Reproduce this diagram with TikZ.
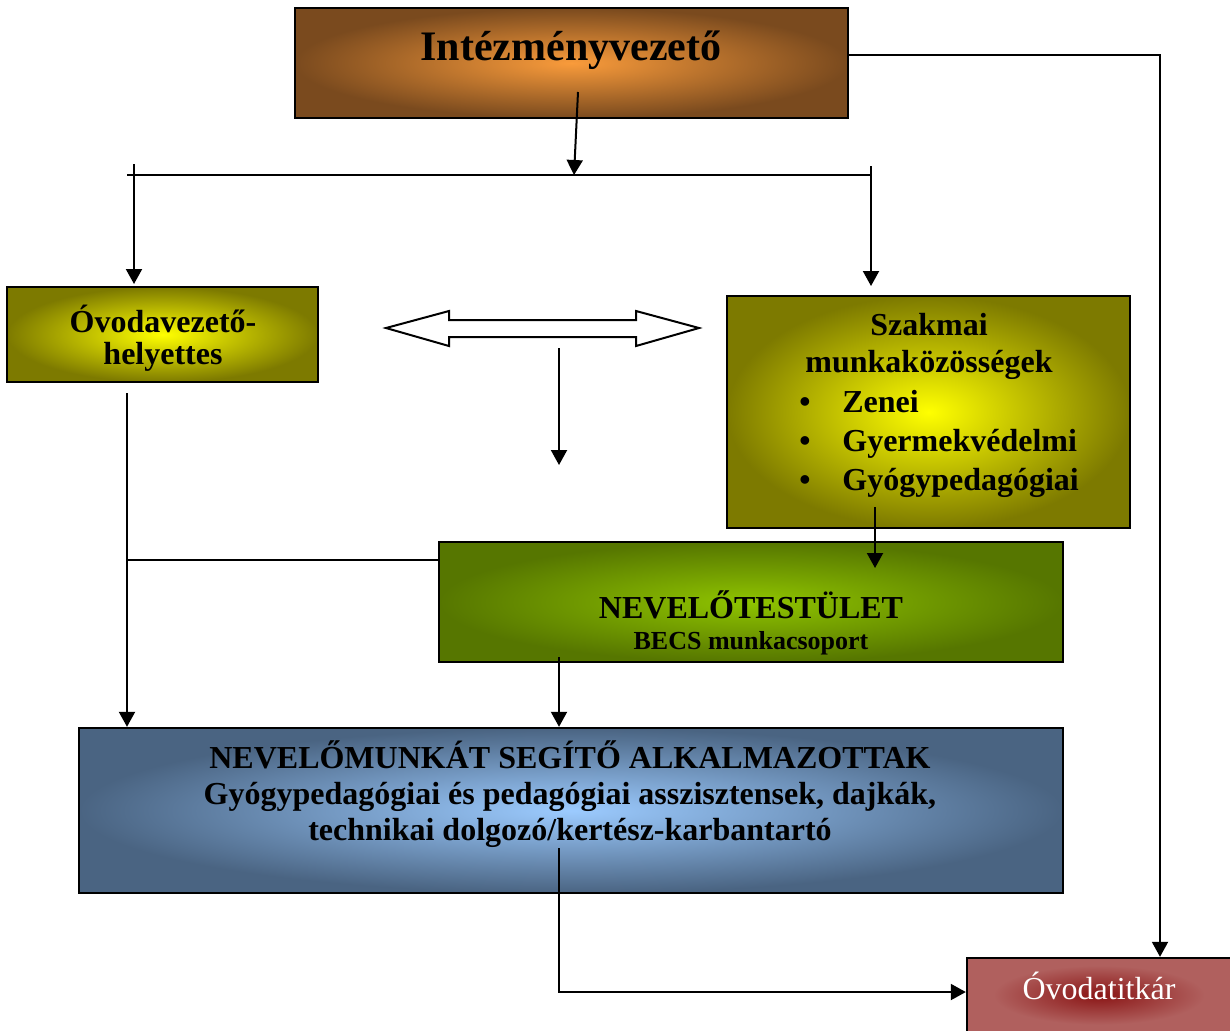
\documentclass[tikz,border=0pt]{standalone}
\usepackage{fontspec}
\setmainfont{Liberation Serif}
\usetikzlibrary{arrows.meta}

\definecolor{barnaszel}{HTML}{7A4A1E}
\definecolor{barnakozep}{HTML}{F99B3B}
\definecolor{olivszel}{HTML}{7D7A00}
\definecolor{olivkozep}{HTML}{FFFF00}
\definecolor{zoldszel}{HTML}{567600}
\definecolor{zoldkozep}{HTML}{8FC400}
\definecolor{kekszel}{HTML}{4A6482}
\definecolor{kekkozep}{HTML}{9CCBFF}
\definecolor{titkarszel}{HTML}{B0605E}
\definecolor{titkarkozep}{HTML}{8A1515}
\pgfdeclareradialshading{titkarfolt}{\pgfpoint{0bp}{0bp}}{color(0bp)=(titkarkozep); color(9bp)=(titkarkozep!55!titkarszel); color(20bp)=(titkarszel); color(50bp)=(titkarszel)}

\begin{document}
\begin{tikzpicture}[x=0.5pt,y=-0.5pt,
  doboz/.style={draw=black,line width=1.2pt,inner sep=0pt},
  felirat/.style={font=\bfseries\fontsize{16}{19}\selectfont,inner sep=0pt,anchor=base,align=center},
  nyil/.style={line width=1pt,-{Triangle[length=7.5pt,width=8pt]}},
  vonal/.style={line width=1pt}]
%\draw[] (0,0) grid (1230,1030);
\useasboundingbox (0,0) rectangle (1230,1030);

\node[doboz,inner color=barnakozep,outer color=barnaszel,minimum width=276.5pt,minimum height=55pt] (vezeto) at (571.5,63) {};
\node[doboz,inner color=olivkozep,outer color=olivszel,minimum width=155.5pt,minimum height=47.5pt] (helyettes) at (162.5,334.5) {};
\node[doboz,inner color=olivkozep,outer color=olivszel,minimum width=201.5pt,minimum height=116pt] (szakmai) at (928.5,412) {};
\node[doboz,inner color=zoldkozep,outer color=zoldszel,minimum width=312pt,minimum height=60pt] (testulet) at (751,602) {};
\node[doboz,inner color=kekkozep,outer color=kekszel,minimum width=492pt,minimum height=82.5pt] (alkalmazottak) at (571,810.5) {};
\node[doboz,shading=titkarfolt,minimum width=132pt,minimum height=37pt] (titkar) at (1099,995) {};

% a tobbsoros feliratok az utolso sor alapvonalan allnak
\node[felirat,font=\bfseries\fontsize{21}{25}\selectfont] (vezeto-cim) at (571,60) {Intézményvezető};
\node[felirat,font=\bfseries\fontsize{16}{16}\selectfont] (helyettes-cim) at (163,364) {Óvodavezető-\\helyettes};
\node[felirat,font=\bfseries\fontsize{16}{18.5}\selectfont] (szakmai-cim) at (929,372) {Szakmai\\munkaközösségek};
\node[felirat,anchor=base west,align=left,font=\bfseries\fontsize{16}{19.5}\selectfont] (szakmai-lista) at (799,490)
  {\makebox[21.5pt][l]{\textbullet}Zenei\\\makebox[21.5pt][l]{\textbullet}Gyermekvédelmi\\\makebox[21.5pt][l]{\textbullet}Gyógypedagógiai};
\node[felirat] (testulet-cim) at (751,618) {NEVELŐTESTÜLET};
\node[felirat,font=\bfseries\fontsize{13}{15}\selectfont] (becs) at (751,649) {BECS munkacsoport};
\node[felirat,font=\bfseries\fontsize{16}{18}\selectfont] (alkalmazottak-cim) at (570,840)
  {NEVELŐMUNKÁT SEGÍTŐ ALKALMAZOTTAK\\Gyógypedagógiai és pedagógiai asszisztensek, dajkák,\\technikai dolgozó/kertész-karbantartó};
\node[inner sep=0pt,anchor=base,text=white,font=\fontsize{16}{19}\selectfont] (titkar-cim) at (1099,999) {Óvodatitkár};

\coordinate (vezeto-le) at (578,92);
\coordinate (elagazas) at (574,175);
\coordinate (bal-vege) at (127,175);
\coordinate (jobb-vege) at (871,175);
\coordinate (bal-fent) at (134,164);
\coordinate (bal-le) at (134,284);
\coordinate (jobb-fent) at (871,166);
\coordinate (jobb-le) at (871,286);
\coordinate (titkar-sarok) at (1160,55);
\coordinate (kozep-le) at (559,348);
\coordinate (kozep-vege) at (559,465);
\coordinate (helyettes-le) at (127,393);
\coordinate (bal-csatlakozas) at (127,560);
\coordinate (szakmai-le) at (875,507);
\coordinate (testulet-be) at (875,568);
\coordinate (testulet-le) at (559,657);
\coordinate (alkalmazottak-le) at (559,848);
\coordinate (also-sarok) at (559,992);

\draw[nyil] (vezeto-le) -- (elagazas);
\draw[vonal] (bal-vege) -- (jobb-vege);
\draw[nyil] (bal-fent) -- (bal-le);
\draw[nyil] (jobb-fent) -- (jobb-le);
\draw[nyil] (vezeto.east |- titkar-sarok) -- (titkar-sarok) -- (titkar.north -| titkar-sarok);

% ketiranyu nyil
\draw[line width=1pt,fill=white] (386,328) -- (449,311) -- (449,320) -- (636,320) -- (636,311) -- (699,328)
  -- (636,346) -- (636,337) -- (449,337) -- (449,346) -- cycle;
\draw[nyil] (kozep-le) -- (kozep-vege);

\draw[nyil] (helyettes-le) -- (helyettes-le |- alkalmazottak.north);
\draw[vonal] (bal-csatlakozas) -- (bal-csatlakozas -| testulet.west);
\draw[nyil] (szakmai-le) -- (testulet-be);
\draw[nyil] (testulet-le) -- (testulet-le |- alkalmazottak.north);
\draw[nyil] (alkalmazottak-le) -- (also-sarok) -- (also-sarok -| titkar.west);
\end{tikzpicture}
\end{document}
